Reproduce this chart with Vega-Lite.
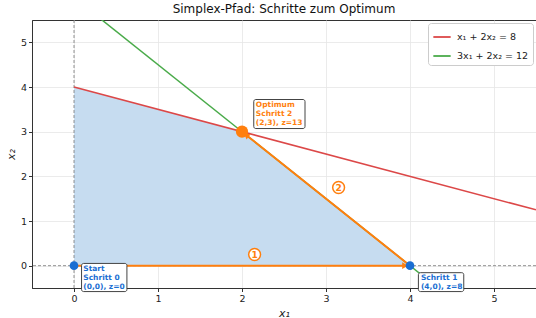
{
  "$schema": "https://vega.github.io/schema/vega-lite/v6.json",
  "autosize": "none",
  "width": 504,
  "height": 268,
  "padding": {"left": 32, "top": 20, "right": 0, "bottom": 30},
  "background": "white",
  "title": {"text": "Simplex-Pfad: Schritte zum Optimum", "fontSize": 12, "fontWeight": "normal", "font": "DejaVu Sans", "color": "#111", "offset": 4},
  "config": {
    "font": "DejaVu Sans",
    "view": {"stroke": "#333", "strokeWidth": 1},
    "axis": {"labelFontSize": 9.5, "labelColor": "#222", "titleFontSize": 11, "titleFontWeight": "normal", "titleColor": "#222", "domainColor": "#333", "tickColor": "#333", "tickSize": 3.5, "gridColor": "#e6e6e6", "gridWidth": 0.8, "labelPadding": 2, "format": "d"},
    "legend": {"fillColor": "white", "strokeColor": "#ccc", "cornerRadius": 3, "padding": 4, "labelFontSize": 9.5, "labelColor": "#222", "symbolType": "stroke", "symbolStrokeWidth": 1.8, "symbolSize": 300, "rowPadding": 4, "offset": 3, "labelOffset": 5}
  },
  "datasets": {
    "region": [{"x": 0, "y": 4, "y0": 0}, {"x": 2, "y": 3, "y0": 0}, {"x": 4, "y": 0, "y0": 0}],
    "lines": [
      {"eq": "x₁ + 2x₂ = 8", "x": 0, "y": 4},
      {"eq": "x₁ + 2x₂ = 8", "x": 5.5, "y": 1.25},
      {"eq": "3x₁ + 2x₂ = 12", "x": 0, "y": 6},
      {"eq": "3x₁ + 2x₂ = 12", "x": 4.3333, "y": -0.5}
    ],
    "path": [{"x": 0, "y": 0, "o": 0}, {"x": 4, "y": 0, "o": 1}, {"x": 2, "y": 3, "o": 2}],
    "heads": [{"x": 3.93, "y": 0, "a": 90}, {"x": 2.06, "y": 2.91, "a": 308}],
    "blue": [{"x": 0, "y": 0}, {"x": 4, "y": 0}],
    "opt": [{"x": 2, "y": 3}],
    "steps": [{"x": 2.15, "y": 0.25, "t": "1"}, {"x": 3.15, "y": 1.75, "t": "2"}],
    "boxes": [
      {"x": 0.09, "x2": 0.63, "y": 0.05, "y2": -0.58},
      {"x": 4.1, "x2": 4.64, "y": -0.157, "y2": -0.58},
      {"x": 2.14, "x2": 2.75, "y": 3.72, "y2": 3.07}
    ],
    "labels": [
      {"x": 0.11, "y": 0.025, "t": "Start\nSchritt 0\n(0,0), z=0", "c": "#1a6ed2"},
      {"x": 4.13, "y": -0.18, "t": "Schritt 1\n(4,0), z=8", "c": "#1a6ed2"},
      {"x": 2.165, "y": 3.69, "t": "Optimum\nSchritt 2\n(2,3), z=13", "c": "#ff7f0e"}
    ]
  },
  "layer": [
    {
      "data": {"name": "region"},
      "mark": {"type": "area", "color": "#c6dcf0", "opacity": 1},
      "encoding": {
        "x": {"field": "x", "type": "quantitative", "scale": {"domain": [-0.5, 5.5], "nice": false, "zero": false}, "axis": {"values": [0, 1, 2, 3, 4, 5], "title": "x₁", "titleFontStyle": "italic", "grid": true}},
        "y": {"field": "y", "type": "quantitative", "scale": {"domain": [-0.5, 5.5], "nice": false, "zero": false}, "axis": {"values": [0, 1, 2, 3, 4, 5], "title": "x₂", "titleFontStyle": "italic", "grid": true}},
        "y2": {"field": "y0"}
      }
    },
    {
      "data": {"values": [{"x": 0}]},
      "mark": {"type": "rule", "color": "#777", "strokeDash": [3, 2], "strokeWidth": 0.8},
      "encoding": {"x": {"field": "x", "type": "quantitative"}}
    },
    {
      "data": {"values": [{"y": 0}]},
      "mark": {"type": "rule", "color": "#777", "strokeDash": [3, 2], "strokeWidth": 0.8},
      "encoding": {"y": {"field": "y", "type": "quantitative"}}
    },
    {
      "data": {"name": "lines"},
      "mark": {"type": "line", "strokeWidth": 1.5, "clip": true},
      "encoding": {
        "x": {"field": "x", "type": "quantitative"},
        "y": {"field": "y", "type": "quantitative"},
        "color": {"field": "eq", "type": "nominal", "scale": {"domain": ["x₁ + 2x₂ = 8", "3x₁ + 2x₂ = 12"], "range": ["#dc4848", "#4aab4a"]}, "legend": {"title": null, "orient": "top-right"}}
      }
    },
    {
      "data": {"name": "path"},
      "mark": {"type": "line", "color": "#ff7f0e", "strokeWidth": 2},
      "encoding": {
        "x": {"field": "x", "type": "quantitative"},
        "y": {"field": "y", "type": "quantitative"},
        "order": {"field": "o"}
      }
    },
    {
      "data": {"name": "heads"},
      "mark": {"type": "point", "shape": "triangle", "filled": true, "color": "#ff7f0e", "size": 45, "opacity": 1},
      "encoding": {
        "x": {"field": "x", "type": "quantitative"},
        "y": {"field": "y", "type": "quantitative"},
        "angle": {"field": "a", "type": "quantitative", "scale": null}
      }
    },
    {
      "data": {"name": "blue"},
      "mark": {"type": "point", "filled": true, "color": "#1a6ed2", "size": 75, "opacity": 1},
      "encoding": {
        "x": {"field": "x", "type": "quantitative"},
        "y": {"field": "y", "type": "quantitative"}
      }
    },
    {
      "data": {"name": "opt"},
      "mark": {"type": "point", "filled": true, "color": "#ff7f0e", "size": 150, "opacity": 1},
      "encoding": {
        "x": {"field": "x", "type": "quantitative"},
        "y": {"field": "y", "type": "quantitative"}
      }
    },
    {
      "data": {"name": "steps"},
      "mark": {"type": "point", "shape": "circle", "filled": true, "fill": "white", "stroke": "#ff7f0e", "strokeWidth": 1.5, "size": 140, "opacity": 1},
      "encoding": {
        "x": {"field": "x", "type": "quantitative"},
        "y": {"field": "y", "type": "quantitative"}
      }
    },
    {
      "data": {"name": "steps"},
      "mark": {"type": "text", "color": "#ff7f0e", "fontWeight": "bold", "fontSize": 9, "baseline": "middle", "align": "center", "dy": 0.5},
      "encoding": {
        "x": {"field": "x", "type": "quantitative"},
        "y": {"field": "y", "type": "quantitative"},
        "text": {"field": "t"}
      }
    },
    {
      "data": {"name": "boxes"},
      "mark": {"type": "rect", "fill": "white", "stroke": "#444", "strokeWidth": 1, "cornerRadius": 2, "clip": false, "opacity": 1},
      "encoding": {
        "x": {"field": "x", "type": "quantitative"},
        "x2": {"field": "x2"},
        "y": {"field": "y", "type": "quantitative"},
        "y2": {"field": "y2"}
      }
    },
    {
      "data": {"name": "labels"},
      "mark": {"type": "text", "fontWeight": "bold", "fontSize": 7.5, "lineHeight": 9, "align": "left", "baseline": "top", "lineBreak": "\n"},
      "encoding": {
        "x": {"field": "x", "type": "quantitative"},
        "y": {"field": "y", "type": "quantitative"},
        "text": {"field": "t"},
        "color": {"field": "c", "type": "nominal", "scale": null}
      }
    }
  ]
}
